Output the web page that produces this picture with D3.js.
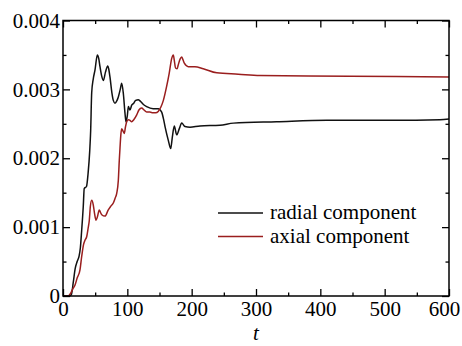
<!DOCTYPE html>
<html><head><meta charset="utf-8">
<script src="https://cdn.jsdelivr.net/npm/d3@7"></script>
<style>body{margin:0;background:#fff}svg{display:block}</style>
</head><body>
<svg id="c" width="462" height="346"></svg>
<script>
// t values and components (units of 1e-3)
const radialT = [0,8,10,13,16,19,22,25,27,29,31.5,33,36.5,39,41.5,43,44.6,47,49.7,53.4,55.5,57.5,60,62.7,66,69.5,71,73,76,78.2,80.8,84,86,89,91.2,93.8,96.4,97.9,100,101.6,104,106.8,110,113,117,120,125,130,140,148,153.4,156,158.6,163.7,167.4,170,173,176.7,180.8,184.5,189.6,197.4,213,244,265,332,410,511,586,600];
const radialV = [0,0,0,0.02,0.2,0.4,0.5,0.58,0.7,0.95,1.3,1.56,1.59,1.78,2.1,2.4,2.95,3.15,3.28,3.5,3.45,3.33,3.2,3.13,3.25,3.34,3.3,3.18,2.95,2.84,2.8,2.84,2.89,3.0,3.09,2.94,2.65,2.53,2.62,2.75,2.7,2.77,2.8,2.84,2.85,2.83,2.78,2.75,2.72,2.72,2.67,2.58,2.46,2.26,2.14,2.31,2.47,2.34,2.43,2.51,2.46,2.45,2.47,2.48,2.51,2.53,2.55,2.55,2.56,2.57];
const axialT = [0,8,12,15,18.7,22,26.4,29,32,34.2,36.8,39,40.9,42.5,44.6,47.1,49,51.3,53.5,56.4,58,60.2,65.3,70.4,74,78.2,81,83.5,86,87.5,88.6,90,91.2,93,95.3,97,99,101.6,104,106.8,110,114.6,118,122.3,126,130,135,140,144,148,152,156,161,165,169,171.5,173,175,177.5,179,182,184.5,186.5,188.6,194.8,205,218,239,272.5,306,446,600];
const axialV = [0,0,0.04,0.1,0.16,0.26,0.38,0.57,0.75,0.81,0.86,0.98,1.1,1.3,1.39,1.32,1.2,1.1,1.15,1.25,1.22,1.18,1.16,1.25,1.3,1.35,1.42,1.49,1.68,1.97,2.15,2.35,2.43,2.4,2.36,2.45,2.53,2.56,2.55,2.53,2.56,2.63,2.7,2.73,2.7,2.67,2.67,2.66,2.66,2.68,2.74,2.84,3.04,3.23,3.45,3.5,3.42,3.31,3.3,3.35,3.44,3.47,3.43,3.38,3.33,3.33,3.3,3.24,3.22,3.2,3.19,3.18];
const xTicks = [0,100,200,300,400,500,600];
const xMinor = [50,150,250,350,450,550];
const yTicks = [0,0.001,0.002,0.003,0.004];
const yTickLabels = ["0","0.001","0.002","0.003","0.004"];
const yMinor = [0.0005,0.0015,0.0025,0.0035];
const seriesNames = ["radial component","axial component"];
const seriesColors = ["#111111","#9a1e1e"];

const FONT = '"Liberation Serif"';
const svg = d3.select("#c");
const L=63, R=449, T=20.5, B=296;
const x = d3.scaleLinear().domain([0,600]).range([L,R]);
const y = d3.scaleLinear().domain([0,0.004]).range([B,T]);

const line = d3.line().x(d=>x(d[0])).y(d=>y(d[1]*1e-3)).curve(d3.curveMonotoneX);
const radial = radialT.map((t,i)=>[t,radialV[i]]);
const axial = axialT.map((t,i)=>[t,axialV[i]]);

svg.append("path").datum(radial).attr("d",line).attr("fill","none").attr("stroke",seriesColors[0]).attr("stroke-width",1.5);
svg.append("path").datum(axial).attr("d",line).attr("fill","none").attr("stroke",seriesColors[1]).attr("stroke-width",1.5);

// axes with inward ticks
const axB = d3.axisBottom(x).tickValues(xTicks).tickSize(-7).tickFormat(d3.format("d")).tickPadding(5);
const axT = d3.axisTop(x).tickValues(xTicks).tickSize(-7).tickFormat("");
const axL = d3.axisLeft(y).tickValues(yTicks).tickSize(-7).tickFormat((d,i)=>yTickLabels[i]).tickPadding(3);
const axR = d3.axisRight(y).tickValues(yTicks).tickSize(-7).tickFormat("");
const mB = d3.axisBottom(x).tickValues(xMinor).tickSize(-3.5).tickFormat("");
const mT = d3.axisTop(x).tickValues(xMinor).tickSize(-3.5).tickFormat("");
const mL = d3.axisLeft(y).tickValues(yMinor).tickSize(-3.5).tickFormat("");
const mR = d3.axisRight(y).tickValues(yMinor).tickSize(-3.5).tickFormat("");

function draw(ax, tr){
  const g = svg.append("g").attr("transform",tr).call(ax);
  g.select(".domain").remove();
  g.selectAll("line").attr("stroke","#000").attr("stroke-width",1.3);
  g.selectAll("text").attr("font-size",21).attr("fill","#000").style("font-family",FONT);
  return g;
}
const gB = draw(axB,`translate(0,${B})`);
gB.selectAll("text").filter(d=>d===600).attr("dx",-5);
draw(axT,`translate(0,${T})`);
draw(axL,`translate(${L},0)`);
draw(axR,`translate(${R},0)`);
draw(mB,`translate(0,${B})`);
draw(mT,`translate(0,${T})`);
draw(mL,`translate(${L},0)`);
draw(mR,`translate(${R},0)`);

svg.append("rect").attr("x",L).attr("y",T).attr("width",R-L).attr("height",B-T)
  .attr("fill","none").attr("stroke","#000").attr("stroke-width",1.5);

svg.append("text").attr("x",(L+R)/2).attr("y",340).attr("text-anchor","middle")
  .style("font-family",FONT).attr("font-style","italic").attr("font-size",21).text("t");

// legend
const leg = svg.append("g");
seriesNames.forEach((n,i)=>{
  const yy = 213 + i*23.5;
  leg.append("line").attr("x1",218).attr("x2",263).attr("y1",yy).attr("y2",yy)
    .attr("stroke",seriesColors[i]).attr("stroke-width",1.5);
  leg.append("text").attr("x",270).attr("y",yy+6).attr("font-size",21)
    .style("font-family",FONT).text(n);
});
</script>
</body></html>
